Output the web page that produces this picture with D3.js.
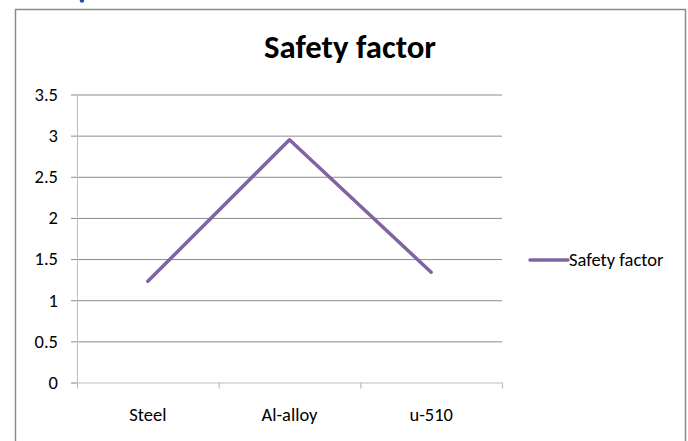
<!DOCTYPE html>
<html>
<head>
<meta charset="utf-8">
<script src="https://cdn.jsdelivr.net/npm/d3@7/dist/d3.min.js"></script>
<style>
  html, body { margin: 0; padding: 0; background: #fff; }
  svg { display: block; font-family: Carlito, Calibri, Lato, "Open Sans", sans-serif; }
</style>
</head>
<body>
<svg id="chart" width="688" height="441"></svg>
<script>
// Safety factor by material
const categories = ["Steel", "Al-alloy", "u-510"];
const safetyFactor = [1.23, 2.95, 1.34];
const yTicks = [0, 0.5, 1, 1.5, 2, 2.5, 3, 3.5];
const tickLabels = ["0", "0.5", "1", "1.5", "2", "2.5", "3", "3.5"];
const seriesName = "Safety factor";
const titleText = "Safety factor";

const svg = d3.select("#chart");
const W = 688, H = 441;
const labelFont = "Carlito, Calibri, Lato, sans-serif";
const labelSize = 18.5;

const plot = { left: 77, right: 502, top: 94.5, bottom: 382.5 };

const x = d3.scaleBand().domain(categories).range([plot.left, plot.right]).padding(0);
const y = d3.scaleLinear().domain([0, 3.5]).range([plot.bottom, plot.top]);

// outer chart frame (bottom edge runs past the page)
svg.append("path")
  .attr("d", `M15.5,${H + 5} V9.5 H685.5 V${H + 5}`)
  .attr("fill", "none")
  .attr("stroke", "#8a8a8a")
  .attr("stroke-width", 1.5);

// small fragment of blue text above the frame
svg.append("circle").attr("cx", 82).attr("cy", 0.5).attr("r", 2.2).attr("fill", "#2b4aa0");

// title
svg.append("text")
  .attr("x", 350).attr("y", 58)
  .attr("text-anchor", "middle")
  .attr("font-size", 32).attr("font-weight", "bold")
  .attr("fill", "#000")
  .attr("textLength", 172).attr("lengthAdjust", "spacingAndGlyphs")
  .text(titleText);

// horizontal gridlines
svg.append("g")
  .attr("transform", `translate(${plot.left},0)`)
  .call(d3.axisLeft(y).tickValues(yTicks.filter(d => d > 0)).tickSize(-(plot.right - plot.left)).tickFormat(""))
  .call(g => g.select(".domain").remove())
  .call(g => g.selectAll("line").attr("stroke", "#8c8c8c").attr("stroke-width", 1));

// y axis with labels
const yAxis = svg.append("g")
  .attr("transform", `translate(${plot.left},0)`)
  .call(d3.axisLeft(y).tickValues(yTicks).tickSize(6).tickPadding(13)
    .tickFormat((d, i) => tickLabels[i]));
yAxis.attr("font-family", labelFont).attr("font-size", labelSize);
yAxis.select(".domain").attr("stroke", "#bdbdbd").attr("stroke-width", 1)
  .attr("d", `M0.5,${plot.top} V${plot.bottom}`);
yAxis.selectAll(".tick line").attr("stroke", "#8c8c8c");
yAxis.selectAll(".tick text").attr("fill", "#000");

// x axis with category labels
const xAxis = svg.append("g")
  .attr("transform", `translate(0,${plot.bottom})`)
  .call(d3.axisBottom(x).tickSize(0).tickPadding(25));
xAxis.attr("font-family", labelFont).attr("font-size", labelSize);
xAxis.select(".domain").attr("stroke", "#bdbdbd").attr("stroke-width", 1.2)
  .attr("d", `M${plot.left - 6},0.5 H${plot.right}`);
xAxis.selectAll(".tick text").attr("fill", "#000");
// category boundary tick marks
const bounds = categories.map(c => x(c)).concat([x(categories[categories.length - 1]) + x.bandwidth()]);
xAxis.selectAll(".bound").data(bounds).join("line")
  .attr("class", "bound")
  .attr("x1", d => d + 0.5).attr("x2", d => d + 0.5)
  .attr("y1", 0).attr("y2", 6)
  .attr("stroke", "#bdbdbd").attr("stroke-width", 1.2);

// data line
const line = d3.line()
  .x((d, i) => x(categories[i]) + x.bandwidth() / 2)
  .y(d => y(d));
svg.append("path")
  .datum(safetyFactor)
  .attr("d", line)
  .attr("fill", "none")
  .attr("stroke", "#8064a2")
  .attr("stroke-width", 3.5)
  .attr("stroke-linejoin", "round")
  .attr("stroke-linecap", "round");

// legend
const lg = svg.append("g").attr("transform", "translate(530,260)");
lg.append("line").attr("x1", 0).attr("x2", 38).attr("y1", 0).attr("y2", 0)
  .attr("stroke", "#8064a2").attr("stroke-width", 3.5).attr("stroke-linecap", "round");
lg.append("text").attr("x", 39).attr("y", 6)
  .attr("font-family", labelFont).attr("font-size", labelSize).attr("fill", "#000")
  .text(seriesName);
</script>
</body>
</html>
